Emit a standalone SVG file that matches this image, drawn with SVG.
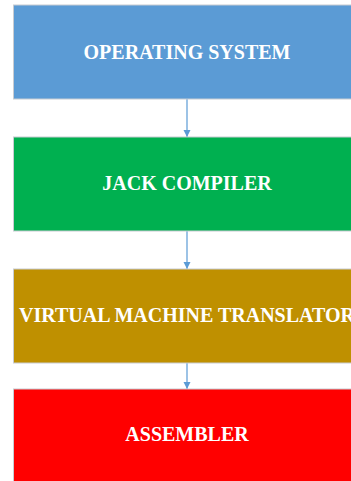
<svg xmlns="http://www.w3.org/2000/svg" width="351" height="481" viewBox="0 0 351 481">
<style>
.box{stroke:#c8ccd2;stroke-width:1}
.lbl{font-family:"Liberation Serif","Times New Roman",serif;font-weight:bold;font-size:20px;fill:#ffffff;text-anchor:middle}
.conn{stroke:#5b9bd5;stroke-width:1.2;fill:none}
</style>
<defs>
<marker id="ah" markerWidth="8" markerHeight="8" refX="7" refY="4" orient="auto" markerUnits="userSpaceOnUse">
<path d="M0,0.5 L7,4 L0,7.5 z" fill="#5b9bd5"/>
</marker>
</defs>
<rect width="351" height="481" fill="#ffffff"/>
<g id="connectors">
<line class="conn" x1="187" y1="99" x2="187" y2="137" marker-end="url(#ah)"/>
<line class="conn" x1="187" y1="231" x2="187" y2="269" marker-end="url(#ah)"/>
<line class="conn" x1="187" y1="363" x2="187" y2="389" marker-end="url(#ah)"/>
</g>
<g id="os">
<rect class="box" x="13.5" y="5" width="348" height="94" fill="#5b9bd5"/>
<text class="lbl" x="187" y="58.5">OPERATING SYSTEM</text>
</g>
<g id="jack">
<rect class="box" x="13.5" y="137" width="348" height="94" fill="#00b050"/>
<text class="lbl" x="187" y="190">JACK COMPILER</text>
</g>
<g id="vm">
<rect class="box" x="13.5" y="269" width="348" height="94" fill="#bf9000"/>
<text class="lbl" x="187" y="322">VIRTUAL MACHINE TRANSLATOR</text>
</g>
<g id="asm">
<rect class="box" x="13.5" y="389" width="348" height="100" fill="#ff0000"/>
<text class="lbl" x="187" y="441">ASSEMBLER</text>
</g>
</svg>
